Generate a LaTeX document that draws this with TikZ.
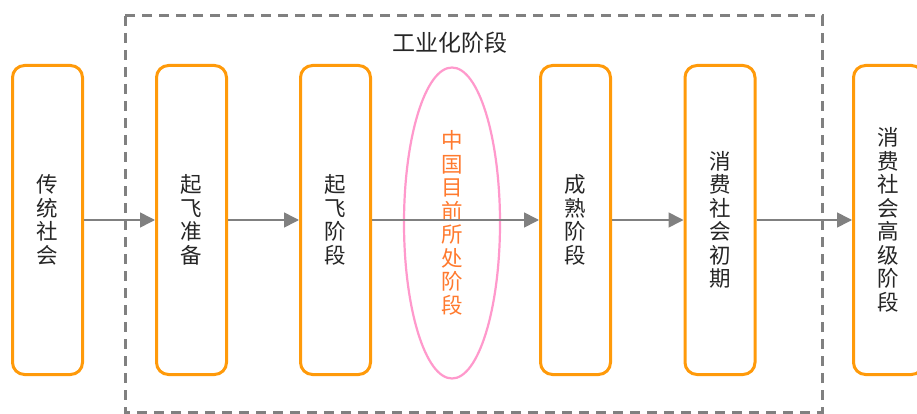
\documentclass[tikz,border=0pt]{standalone}
\usepackage{fontspec}
\newfontfamily\cjk{Noto Sans CJK SC}
\usetikzlibrary{arrows.meta,shapes.geometric}
\definecolor{boxorange}{HTML}{FF9A0A}
\definecolor{txtorange}{HTML}{FF7A2E}
\definecolor{pinkline}{HTML}{FF99CC}
\definecolor{arrgray}{HTML}{808080}
\definecolor{txtdark}{HTML}{262626}
\tikzset{
  stagebox/.style={draw=boxorange, line width=3pt, rounded corners=12pt,
    minimum width=70pt, minimum height=309pt, align=center, inner sep=0pt,
    text=txtdark, font=\cjk\fontsize{21.5}{23.5}\selectfont},
  flowarrow/.style={draw=arrgray, line width=1.6pt,
    -{Triangle[length=15pt,width=15pt]}, fill=arrgray},
  phasebox/.style={draw=arrgray, line width=3pt, dash pattern=on 10pt off 7pt},
}
\begin{document}
\begin{tikzpicture}[x=1pt,y=-1pt]
\useasboundingbox (0,0) rectangle (917,414);
\fill[white] (0,0) rectangle (917,414);
\draw[phasebox] (125,16) rectangle (822,412);
\node[font=\cjk\fontsize{23}{26}\selectfont, text=txtdark] (title) at (450,43) {工业化阶段};
\node[ellipse, draw=pinkline, line width=2.2pt, minimum width=96pt, minimum height=311pt,
  inner sep=0pt, align=center, text=txtorange, font=\cjk\fontsize{21.5}{23.5}\selectfont]
  (cur) at (452,223) {中\\国\\目\\前\\所\\处\\阶\\段};
\node[stagebox] (b1) at (47.5,220) {传\\统\\社\\会};
\node[stagebox] (b2) at (191.5,220) {起\\飞\\准\\备};
\node[stagebox] (b3) at (335.5,220) {起\\飞\\阶\\段};
\node[stagebox] (b4) at (575.5,220) {成\\熟\\阶\\段};
\node[stagebox] (b5) at (720,220) {消\\费\\社\\会\\初\\期};
\node[stagebox] (b6) at (888.5,220) {消\\费\\社\\会\\高\\级\\阶\\段};
\draw[flowarrow] (b1) -- (b2);
\draw[flowarrow] (b2) -- (b3);
\draw[flowarrow] (b3) -- (b4);
\draw[flowarrow] (b4) -- (b5);
\draw[flowarrow] (b5) -- (b6);
\end{tikzpicture}
\end{document}
